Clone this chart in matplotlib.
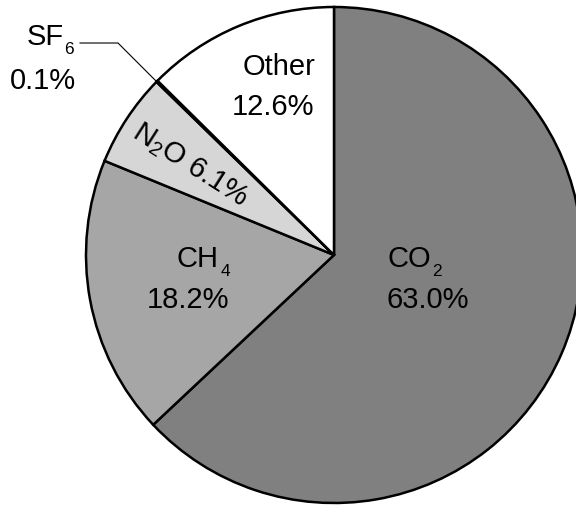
import matplotlib.pyplot as plt

plt.rcParams['font.family'] = ['Liberation Sans', 'DejaVu Sans']
plt.rcParams['mathtext.fontset'] = 'custom'
plt.rcParams['mathtext.rm'] = 'Liberation Sans'

# data (clockwise from 12 o'clock)
gases = ["CO2", "CH4", "N2O", "SF6", "Other"]
shares = [63.0, 18.2, 6.1, 0.1, 12.6]
colors = ["#808080", "#a6a6a6", "#d6d6d6", "#000000", "#ffffff"]

W, H = 576, 506
fig = plt.figure(figsize=(W / 100, H / 100), dpi=100)
ax = fig.add_axes([0, 0, 1, 1])

ax.pie(shares, colors=colors, startangle=90, counterclock=False,
       center=(334, H - 256), radius=248,
       wedgeprops=dict(edgecolor="black", linewidth=1.8))
ax.set_xlim(0, W)
ax.set_ylim(0, H)
ax.set_aspect("equal")
ax.axis("off")

fs = 21
sfs = 12.5
r = fig.canvas.get_renderer()

def lab(x, y, s, ha):
    ax.text(x, H - y, s, ha=ha, va="baseline", fontsize=fs)

def chem(x, y, main, sub, ha, gap=1):
    # main text with a low subscript, like the original
    if ha == "left":
        t = ax.text(x, H - y, main, ha="left", va="baseline", fontsize=fs)
        x1 = t.get_window_extent(r).x1
        ax.text(x1 + gap, H - y - 9, sub, ha="left", va="baseline", fontsize=sfs)
    else:
        s = ax.text(x, H - y - 9, sub, ha="right", va="baseline", fontsize=sfs)
        w = s.get_window_extent(r).width
        ax.text(x - w - gap, H - y, main, ha="right", va="baseline", fontsize=fs)

# CO2
chem(387, 267, "CO", "2", "left")
lab(386, 308, "63.0%", "left")
# CH4
chem(230, 267, "CH", "4", "right", gap=2)
lab(229, 308, "18.2%", "right")
# Other
lab(315, 75, "Other", "right")
lab(314, 115, "12.6%", "right")
# SF6 with leader line
chem(74, 45, "SF", "6", "right", gap=1)
lab(76, 89, "0.1%", "right")
ax.plot([80, 118, 157], [H - 44, H - 44, H - 83], color="black", lw=0.8)
# N2O rotated along the wedge
ax.text(190, H - 165, r"$\mathregular{N_2O}$ 6.1%", ha="center", va="center",
        rotation=-32.5, rotation_mode="anchor", fontsize=fs)

fig.savefig("out.png", dpi=100)
